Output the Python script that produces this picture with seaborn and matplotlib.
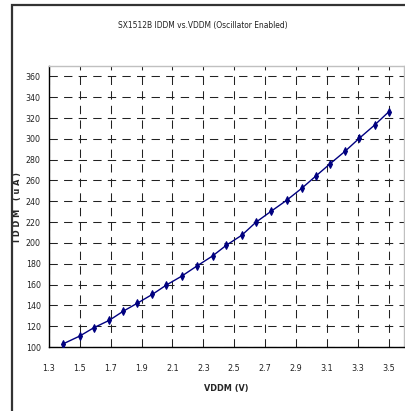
import pandas as pd
import seaborn as sns
import matplotlib.pyplot as plt
from matplotlib.patches import Rectangle

# datos
vddm = [1.39, 1.50, 1.59, 1.69, 1.78, 1.87, 1.97, 2.06, 2.16, 2.26, 2.36, 2.45,
        2.55, 2.64, 2.74, 2.84, 2.94, 3.03, 3.12, 3.22, 3.31, 3.41, 3.50]
iddm = [102.9, 110.6, 118.5, 125.6, 134.3, 141.9, 150.6, 159.5, 168.1, 178.0, 187.5, 197.9,
        207.5, 219.8, 230.5, 241.0, 252.8, 264.4, 275.9, 288.3, 300.5, 313.3, 325.8]
x_ticks = [1.3, 1.5, 1.7, 1.9, 2.1, 2.3, 2.5, 2.7, 2.9, 3.1, 3.3, 3.5]
y_ticks = list(range(100, 361, 20))

df = pd.DataFrame({"VDDM": vddm, "IDDM": iddm})

sns.set_style("white")
plt.rcParams['font.family'] = ['DejaVu Sans']
plt.rcParams['font.stretch'] = 'condensed'

fig = plt.figure(figsize=(4.06, 4.11), dpi=100)
ax = fig.add_axes([0.1207, 0.1557, 0.8743, 0.6837])

sns.lineplot(data=df, x="VDDM", y="IDDM", ax=ax, color="#000080", linewidth=1.0,
             marker="d", markersize=4, markeredgecolor="#000080", zorder=3)

ax.set_xlim(1.3, 3.6)
ax.set_ylim(100, 370)
ax.set_xticks(x_ticks)
ax.set_xticklabels([f"{t:.1f}" for t in x_ticks], fontsize=6.5, color="#222222")
ax.set_yticks(y_ticks)
ax.set_yticklabels([str(t) for t in y_ticks], fontsize=6.3, color="#222222")
ax.tick_params(axis="both", direction="out", length=4, width=0.8, color="black", pad=2)
ax.tick_params(axis="x", pad=8)
ax.grid(True, color="#222222", linewidth=0.75, linestyle=(0, (8, 6)))

for s in ["left", "bottom"]:
    ax.spines[s].set_color("black")
    ax.spines[s].set_linewidth(1.0)
for s in ["top", "right"]:
    ax.spines[s].set_color("#c0c0c0")
    ax.spines[s].set_linewidth(1.0)

ax.set_xlabel("VDDM (V)", fontsize=6.5, fontweight="bold", labelpad=8)
ax.set_ylabel("I D D M   ( u A )", fontsize=6.5, fontweight="bold")
ax.yaxis.set_label_coords(-0.075, 0.5)

fig.text(0.5, 0.939, "SX1512B IDDM vs.VDDM (Oscillator Enabled)", ha="center", va="center",
         fontsize=6, color="#222222")

# marco exterior
fig.patches.append(Rectangle((12 / 406, -0.1), 1.0, 1.1 - 5 / 411, transform=fig.transFigure,
                             fill=False, edgecolor="#333333", linewidth=1.6, clip_on=False))

plt.savefig("out.png", dpi=100)
plt.close()
